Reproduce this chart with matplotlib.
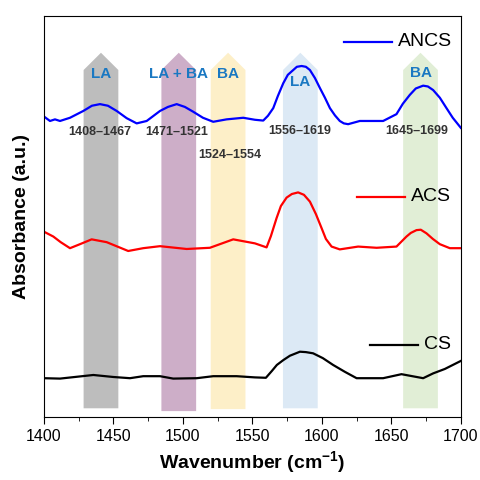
import matplotlib.pyplot as plt
from matplotlib.patches import Polygon

plt.rcParams['font.family'] = ['Liberation Sans', 'DejaVu Sans']
plt.rcParams['mathtext.fontset'] = 'custom'
plt.rcParams['mathtext.rm'] = 'Liberation Sans'
plt.rcParams['mathtext.bf'] = 'Liberation Sans:bold'

# spectra (wavenumber, absorbance a.u., offset already applied)
ancs_x = [1400, 1404.3, 1407.9, 1411.5, 1418.7, 1428.3, 1434.5, 1440.3, 1446.0, 1452.3,
          1459.5, 1466.7, 1473.9, 1483.5, 1489.2, 1495.5, 1501.4, 1507.4, 1514.4, 1521.8,
          1531.4, 1543.4, 1551.8, 1557.8, 1561.2, 1565.0, 1568.3, 1572.2, 1575.5, 1579.4,
          1582.0, 1585.4, 1588.5, 1591.4, 1595.0, 1598.6, 1602.2, 1605.8, 1609.4, 1612.9,
          1615.8, 1618.9, 1627.3, 1644.1, 1653.7, 1658.3, 1663.3, 1667.6, 1672.9, 1676.3,
          1680.1, 1684.9, 1689.7, 1694.2, 1700]
ancs_y = [0.749, 0.738, 0.742, 0.738, 0.746, 0.763, 0.776, 0.780, 0.776, 0.763,
          0.745, 0.732, 0.738, 0.763, 0.773, 0.780, 0.773, 0.761, 0.746, 0.736,
          0.742, 0.746, 0.741, 0.739, 0.751, 0.770, 0.800, 0.832, 0.853, 0.865,
          0.873, 0.875, 0.873, 0.865, 0.845, 0.820, 0.796, 0.770, 0.752, 0.738,
          0.732, 0.730, 0.738, 0.738, 0.755, 0.781, 0.803, 0.819, 0.826, 0.824,
          0.815, 0.796, 0.770, 0.746, 0.721]

acs_x = [1400, 1406.7, 1412.0, 1418.7, 1425.9, 1434.3, 1445.1, 1460.6, 1471.4, 1483.5,
         1502.7, 1519.4, 1536.2, 1551.8, 1560.2, 1563.3, 1567.4, 1570.5, 1574.6, 1578.4,
         1582.9, 1587.1, 1591.4, 1595.7, 1599.8, 1602.9, 1607.0, 1612.9, 1626.1, 1639.4,
         1653.7, 1660.9, 1664.0, 1668.1, 1671.2, 1675.3, 1679.9, 1684.9, 1692.1, 1700]
acs_y = [0.462, 0.450, 0.436, 0.421, 0.431, 0.443, 0.436, 0.414, 0.421, 0.426,
         0.419, 0.422, 0.443, 0.433, 0.423, 0.451, 0.496, 0.526, 0.547, 0.556,
         0.560, 0.554, 0.537, 0.506, 0.471, 0.444, 0.425, 0.418, 0.425, 0.422,
         0.425, 0.450, 0.459, 0.466, 0.467, 0.458, 0.444, 0.431, 0.421, 0.421]

cs_x = [1400, 1411.5, 1435.5, 1449.9, 1461.9, 1471.4, 1483.5, 1493.0, 1509.9, 1521.8,
        1538.6, 1551.8, 1559.7, 1564.0, 1567.6, 1572.2, 1577.0, 1584.2, 1588.5, 1593.7,
        1600.7, 1608.1, 1616.5, 1625.0, 1644.1, 1657.3, 1672.9, 1680.1, 1688.5, 1700]
cs_y = [0.097, 0.096, 0.105, 0.100, 0.097, 0.102, 0.102, 0.096, 0.097, 0.102,
        0.102, 0.099, 0.098, 0.115, 0.130, 0.142, 0.153, 0.163, 0.162, 0.159,
        0.147, 0.130, 0.113, 0.097, 0.097, 0.107, 0.097, 0.109, 0.120, 0.140]

# highlighted bands
band_centers = [1441, 1497, 1532.5, 1584.5, 1671]
band_colors = ['#bdbdbd', '#cdaec8', '#fdefc8', '#dce9f5', '#e1eed6']
band_tags = ['LA', 'LA + BA', 'BA', 'LA', 'BA']
band_ranges = ['1408–1467', '1471–1521', '1524–1554', '1556–1619', '1645–1699']

fig = plt.figure(figsize=(4.81, 4.80), dpi=100)
ax = fig.add_axes([0.0915, 0.131, 0.8665, 0.836])

half = 12.5
bottoms = [0.022, 0.015, 0.020, 0.022, 0.022]
for c, col, b in zip(band_centers, band_colors, bottoms):
    pts = [(c - half, b), (c + half, b), (c + half, 0.865), (c, 0.908), (c - half, 0.865)]
    ax.add_patch(Polygon(pts, closed=True, facecolor=col, edgecolor='none', zorder=1))

tag_y = [0.855, 0.855, 0.855, 0.835, 0.858]
for c, t, ty in zip(band_centers, band_tags, tag_y):
    ax.text(c, ty, t, ha='center', va='center', color='#1a78c2',
            fontsize=11, fontweight='bold', zorder=3)

range_pos = [(1439.8, 0.711), (1495.5, 0.711), (1533.5, 0.653), (1584.2, 0.713), (1668.3, 0.713)]
for (rx, ry), r in zip(range_pos, band_ranges):
    ax.text(rx, ry, r, ha='center', va='center', color='#333333',
            fontsize=9, fontweight='bold', zorder=3)

ax.plot(ancs_x, ancs_y, color='#0000ff', lw=1.6, zorder=2)
ax.plot(acs_x, acs_y, color='#ff0000', lw=1.6, zorder=2)
ax.plot(cs_x, cs_y, color='black', lw=1.6, zorder=2)

# legend entries
entries = [('ANCS', '#0000ff', 0.719, 0.935), ('ACS', '#ff0000', 0.751, 0.549), ('CS', 'black', 0.782, 0.180)]
for name, col, lx, ly in entries:
    ax.plot([lx, lx + 0.116], [ly, ly], color=col, lw=1.6, transform=ax.transAxes)
    ax.text(lx + 0.13, ly, name, transform=ax.transAxes, va='center', ha='left', fontsize=14)

ax.set_xlim(1400, 1700)
ax.set_ylim(0, 1)
ax.set_xticks(range(1400, 1701, 50))
ax.set_xticks(range(1400, 1701, 25), minor=True)
ax.set_yticks([])
ax.tick_params(axis='x', which='major', length=5, labelsize=11.5, direction='out')
ax.tick_params(axis='x', which='minor', length=3, direction='out')
ax.set_xlabel(r'Wavenumber (cm$^{\mathbf{-1}}$)', fontsize=14, fontweight='bold')
ax.set_ylabel('Absorbance (a.u.)', fontsize=14, fontweight='bold', labelpad=10)

fig.savefig('out.png', dpi=100)
